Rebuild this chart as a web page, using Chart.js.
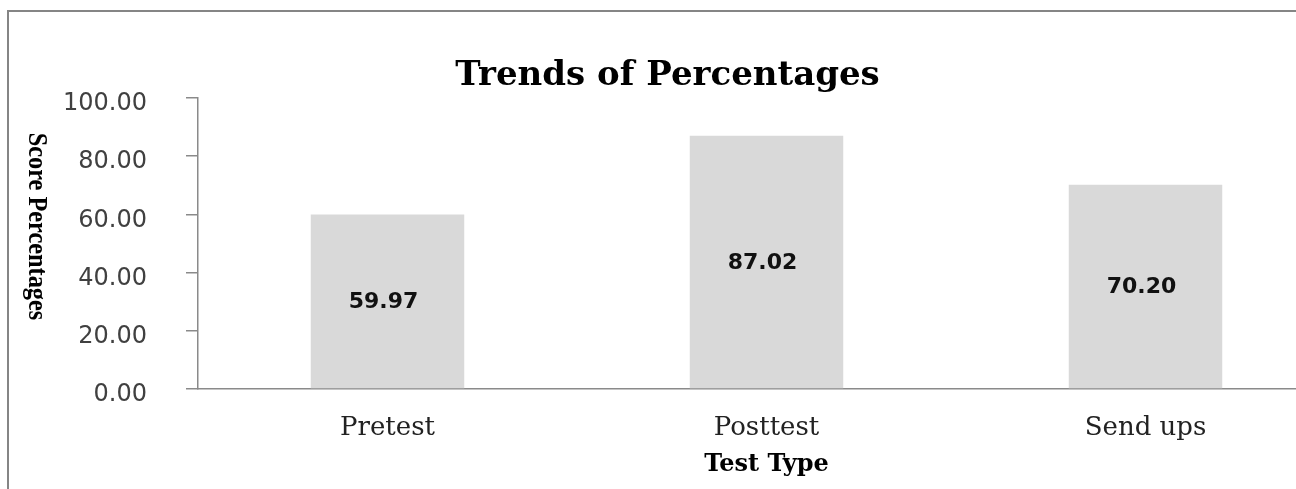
<!DOCTYPE html>
<html><head><meta charset="utf-8">
<script src="https://cdn.jsdelivr.net/npm/chart.js@4.4.0/dist/chart.umd.min.js"></script>
<style>
html,body{margin:0;padding:0;background:#fff;overflow:hidden;width:1296px;height:489px;position:relative;}
#frame{position:absolute;left:7px;top:10px;width:1400px;height:600px;border-top:2px solid #858585;border-left:2px solid #858585;}
#wrap{position:absolute;left:0;top:0;width:1345px;height:489px;}
</style></head><body>
<div id="frame"></div>
<div id="wrap"><canvas id="c" width="1345" height="489"></canvas></div>
<script>
const categories = ['Pretest', 'Posttest', 'Send ups'];
const scores = [59.97, 87.02, 70.20];
const yTicks = [0, 20, 40, 60, 80, 100];
const chartTitle = 'Trends of Percentages';
const xTitle = 'Test Type';
const yTitle = 'Score Percentages';

const barLabels = {
  id: 'barLabels',
  afterDatasetsDraw(chart) {
    const ctx = chart.ctx;
    const meta = chart.getDatasetMeta(0);
    ctx.save();
    ctx.font = 'bold 22px "DejaVu Sans"';
    ctx.fillStyle = '#111';
    ctx.textAlign = 'center';
    ctx.textBaseline = 'middle';
    meta.data.forEach((bar, i) => {
      ctx.fillText(scores[i].toFixed(2), bar.x - 4, (bar.y + bar.base) / 2 + 1);
    });
    ctx.restore();
  }
};

const yAxisTitle = {
  id: 'yAxisTitle',
  afterDraw(chart) {
    const ctx = chart.ctx;
    const a = chart.chartArea;
    ctx.save();
    ctx.translate(36, (a.top + a.bottom) / 2 - 17);
    ctx.rotate(Math.PI / 2);
    ctx.scale(0.9, 1);
    ctx.font = 'bold 27px "Liberation Serif"';
    ctx.fillStyle = '#000';
    ctx.textAlign = 'center';
    ctx.textBaseline = 'middle';
    ctx.fillText(yTitle, 0, 0);
    ctx.restore();
  }
};

new Chart(document.getElementById('c'), {
  type: 'bar',
  data: {
    labels: categories,
    datasets: [{
      data: scores,
      backgroundColor: '#d9d9d9',
      borderWidth: 0,
      barPercentage: 0.405,
      categoryPercentage: 1.0
    }]
  },
  options: {
    responsive: false,
    devicePixelRatio: 1,
    animation: false,
    layout: { padding: { left: 0, right: 10, top: 0, bottom: 0 } },
    plugins: {
      legend: { display: false },
      tooltip: { enabled: false },
      title: {
        display: true,
        text: chartTitle,
        color: '#000',
        font: { family: '"DejaVu Serif"', size: 34, weight: 'bold', lineHeight: 1.2 },
        padding: { top: 56, bottom: 1.2 }
      }
    },
    scales: {
      x: {
        grid: { display: false, drawTicks: false },
        border: { display: true, color: '#8a8a8a', width: 1.5 },
        ticks: { color: '#222', font: { family: '"DejaVu Serif"', size: 26 }, padding: 24 },
        title: {
          display: true, text: xTitle, color: '#000',
          font: { family: '"DejaVu Serif"', size: 24, weight: 'bold', lineHeight: 1.2 },
          padding: { top: 0, bottom: 9.6 }
        },
        afterFit(s) { s.height = 100; }
      },
      y: {
        min: 0, max: 100,
        grid: { drawOnChartArea: false, drawTicks: true, tickLength: 12, color: '#8a8a8a', lineWidth: 1.5 },
        border: { display: true, color: '#8a8a8a', width: 1.5 },
        ticks: {
          color: '#404040',
          font: { family: '"DejaVu Sans"', size: 24 },
          padding: 39,
          labelOffset: 6,
          callback: v => Number(v).toFixed(2)
        },
        afterBuildTicks(s) { s.ticks = yTicks.map(v => ({ value: v })); },
        afterFit(s) { s.width = 198; }
      }
    }
  },
  plugins: [barLabels, yAxisTitle]
});
</script>
</body></html>
